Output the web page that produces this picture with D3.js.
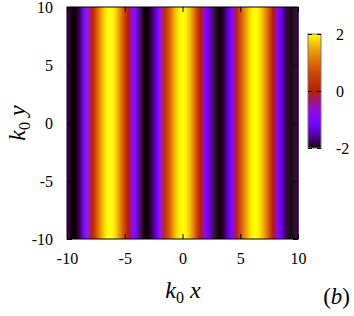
<!DOCTYPE html>
<html>
<head>
<meta charset="utf-8">
<script src="https://cdn.jsdelivr.net/npm/d3@7"></script>
</head>
<body style="margin:0">
<script>
// data: field 2 cos(k0 x), uniform along y
const amplitude = 2,
  k0 = 1;
const xTicks = [-10, -5, 0, 5, 10];
const yTicks = [-10, -5, 0, 5, 10];
const cbTicks = [-2, 0, 2];
const nCols = 240;

const width = 354,
  height = 316,
  plot = { left: 67, right: 298, top: 7, bottom: 239 },
  cb = { left: 308, right: 321, top: 34, bottom: 148 };

const fontFam = '"Liberation Serif"';

// gnuplot default palette (7,5,15)
function palette(t) {
  t = Math.max(0, Math.min(1, t));
  const r = Math.sqrt(t),
    g = t * t * t,
    b = Math.max(0, Math.sin(2 * Math.PI * t));
  return d3.rgb(r * 255, g * 255, b * 255);
}
const color = (v) => palette((v + amplitude) / (2 * amplitude));
const fmt = (d) => String(d); // plain hyphen minus like gnuplot
const setFont = (sel) =>
  sel.each(function () {
    this.style.setProperty("font-family", fontFam, "important");
  });

const x = d3.scaleLinear().domain([-10, 10]).range([plot.left, plot.right]);
const y = d3.scaleLinear().domain([-10, 10]).range([plot.bottom, plot.top]);

const svg = d3
  .select("body")
  .append("svg")
  .attr("width", width)
  .attr("height", height);

// sampled columns
const step = 20 / nCols;
const cols = d3.range(nCols).map((i) => {
  const x0 = -10 + i * step;
  return { x0, x1: x0 + step, v: amplitude * Math.cos(k0 * (x0 + step / 2)) };
});

svg
  .append("g")
  .selectAll("rect")
  .data(cols)
  .join("rect")
  .attr("x", (d) => x(d.x0))
  .attr("y", plot.top)
  .attr("width", (d) => x(d.x1) - x(d.x0) + 0.5)
  .attr("height", plot.bottom - plot.top)
  .attr("fill", (d) => color(d.v));

// axes with inward ticks, mirrored
const tl = 5;
svg
  .append("g")
  .attr("transform", `translate(0,${plot.bottom})`)
  .call(d3.axisBottom(x).tickValues(xTicks).tickSize(-tl).tickPadding(14).tickFormat(fmt));
svg
  .append("g")
  .attr("transform", `translate(0,${plot.top})`)
  .call(d3.axisTop(x).tickValues(xTicks).tickSize(-tl).tickFormat(""));
svg
  .append("g")
  .attr("transform", `translate(${plot.left},0)`)
  .call(d3.axisLeft(y).tickValues(yTicks).tickSize(-tl).tickPadding(14).tickFormat(fmt));
svg
  .append("g")
  .attr("transform", `translate(${plot.right},0)`)
  .call(d3.axisRight(y).tickValues(yTicks).tickSize(-tl).tickFormat(""));

svg
  .append("rect")
  .attr("x", plot.left)
  .attr("y", plot.top)
  .attr("width", plot.right - plot.left)
  .attr("height", plot.bottom - plot.top)
  .attr("fill", "none")
  .attr("stroke", "#000")
  .attr("stroke-width", 1);

// colorbar
const cbScale = d3.scaleLinear().domain([-amplitude, amplitude]).range([cb.bottom, cb.top]);
const defs = svg.append("defs");
const grad = defs
  .append("linearGradient")
  .attr("id", "cbgrad")
  .attr("x1", 0).attr("y1", 1).attr("x2", 0).attr("y2", 0);
grad
  .selectAll("stop")
  .data(d3.range(0, 1.0001, 0.02))
  .join("stop")
  .attr("offset", (d) => d)
  .attr("stop-color", (d) => palette(d));

svg
  .append("rect")
  .attr("x", cb.left)
  .attr("y", cb.top)
  .attr("width", cb.right - cb.left)
  .attr("height", cb.bottom - cb.top)
  .attr("fill", "url(#cbgrad)")
  .attr("stroke", "#777")
  .attr("stroke-width", 1);

svg
  .append("g")
  .attr("transform", `translate(${cb.right},0)`)
  .call(d3.axisRight(cbScale).tickValues(cbTicks).tickSize(-4).tickPadding(15).tickFormat(fmt));
svg
  .append("g")
  .attr("transform", `translate(${cb.left},0)`)
  .call(d3.axisLeft(cbScale).tickValues(cbTicks).tickSize(-4).tickFormat(""));

svg.selectAll(".domain").remove();
svg.selectAll(".tick line").attr("stroke", "#000").attr("stroke-width", 1);
svg.selectAll(".tick text").attr("font-size", 16).attr("fill", "#000");

// labels
function mathLabel(t, name) {
  t.attr("font-size", 24);
  t.append("tspan").attr("font-style", "italic").text("k");
  t.append("tspan").attr("font-size", 16).attr("dy", 5).text("0");
  t.append("tspan").attr("dy", -5).attr("font-style", "italic").text(" " + name);
}
mathLabel(
  svg.append("text").attr("x", 183).attr("y", 298).attr("text-anchor", "middle"),
  "x"
);
mathLabel(
  svg
    .append("text")
    .attr("transform", `translate(25,${(plot.top + plot.bottom) / 2}) rotate(-90)`)
    .attr("text-anchor", "middle"),
  "y"
);

const bl = svg
  .append("text")
  .attr("x", 350)
  .attr("y", 304)
  .attr("text-anchor", "end")
  .attr("font-size", 23);
bl.append("tspan").text("(");
bl.append("tspan").attr("font-style", "italic").text("b");
bl.append("tspan").text(")");

setFont(svg.selectAll("text, tspan"));
</script>
</body>
</html>
